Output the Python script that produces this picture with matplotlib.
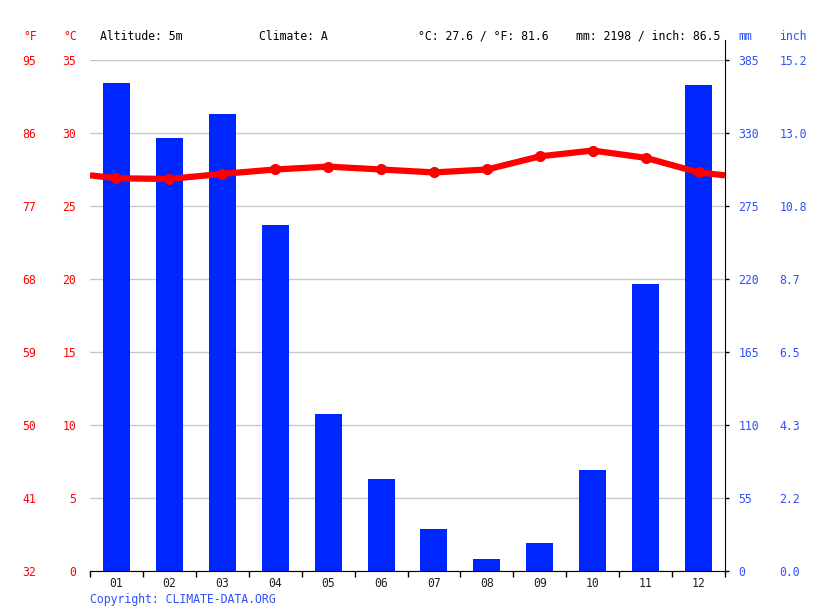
import numpy as np
import matplotlib.pyplot as plt

months = ['01', '02', '03', '04', '05', '06', '07', '08', '09', '10', '11', '12']
precip_mm = [368, 326, 344, 261, 118, 69, 32, 9, 21, 76, 216, 366]
temp_c = [26.9, 26.85, 27.2, 27.5, 27.7, 27.5, 27.3, 27.5, 28.4, 28.8, 28.3, 27.3]
temp_ticks = [0, 5, 10, 15, 20, 25, 30, 35]
mm_ticks = [0, 55, 110, 165, 220, 275, 330, 385]

W, H = 815, 611
red = '#ff0000'
blue_txt = '#2f4fff'
bar_col = '#0026ff'
fs = 8.3
plt.rcParams['font.family'] = 'DejaVu Sans Mono'

fig = plt.figure(figsize=(W / 100, H / 100), dpi=100)
ax = fig.add_axes([90 / W, (H - 571) / H, (725 - 90) / W, (571 - 60) / H])
ax2 = ax.twinx()

x = np.arange(1, 13)
ax.bar(x, precip_mm, width=0.51, color=bar_col, zorder=2)
ax.set_xlim(0.5, 12.5)
ax.set_ylim(0, 385)
ax.yaxis.tick_right()
ax.set_yticks(mm_ticks)
ax.tick_params(axis='y', labelcolor=blue_txt, color='black', labelsize=fs,
               length=3, width=1, pad=6.5)
ax.grid(axis='y', color='#c8c8c8', linewidth=1)
ax.set_axisbelow(True)

# month ticks at boundaries, labels in between
ax.set_xticks(np.arange(0.5, 13, 1))
ax.set_xticklabels([])
ax.set_xticks(x, minor=True)
ax.set_xticklabels(months, minor=True)
ax.tick_params(axis='x', which='major', length=4, width=1, color='black')
ax.tick_params(axis='x', which='minor', length=0, labelsize=fs, pad=4, labelcolor='#222222')

for s in ['left', 'top']:
    ax.spines[s].set_visible(False)
ax.spines['right'].set_bounds(0, 400)

# inch column
sec_in = ax.secondary_yaxis('right', functions=(lambda v: v / 25.4, lambda v: v * 25.4))
sec_in.set_yticks([m / 25.4 for m in mm_ticks])
sec_in.set_yticklabels(['%.1f' % (m / 25.4) for m in mm_ticks])
sec_in.tick_params(length=0, pad=39, labelsize=fs, colors=blue_txt)
sec_in.spines['right'].set_visible(False)

# temperature
ax2.set_ylim(0, 35)
ax2.yaxis.tick_left()
ax2.set_yticks(temp_ticks)
ax2.tick_params(axis='y', length=0, pad=10, labelsize=fs, colors=red)
for s in ax2.spines.values():
    s.set_visible(False)

edge = (temp_c[0] + temp_c[-1]) / 2
tx = np.concatenate([[0.5], x, [12.5]])
ty = np.concatenate([[edge], temp_c, [edge]])
ax2.plot(tx, ty, color=red, linewidth=4.5, solid_capstyle='butt', zorder=3)
ax2.plot(x, temp_c, 'o', color=red, markersize=7, zorder=4)

sec_f = ax2.secondary_yaxis('left', functions=(lambda c: c * 9 / 5 + 32, lambda f: (f - 32) * 5 / 9))
sec_f.set_yticks([c * 9 / 5 + 32 for c in temp_ticks])
sec_f.set_yticklabels(['%d' % (c * 9 / 5 + 32) for c in temp_ticks])
sec_f.tick_params(length=0, pad=39, labelsize=fs, colors=red)
sec_f.spines['left'].set_visible(False)

def ftext(px, py, s, color='black', ha='left'):
    fig.text(px / W, 1 - py / H, s, color=color, ha=ha, va='center', fontsize=fs)

ftext(30, 36, '°F', red, 'center')
ftext(70, 36, '°C', red, 'center')
ftext(100, 36, 'Altitude: 5m')
ftext(259, 36, 'Climate: A')
ftext(418, 36, '°C: 27.6 / °F: 81.6')
ftext(576, 36, 'mm: 2198 / inch: 86.5')
ftext(738, 36, 'mm', blue_txt)
ftext(779, 36, 'inch', blue_txt)
ftext(90, 599, 'Copyright: CLIMATE-DATA.ORG', blue_txt)

fig.savefig('out.png', dpi=100)
